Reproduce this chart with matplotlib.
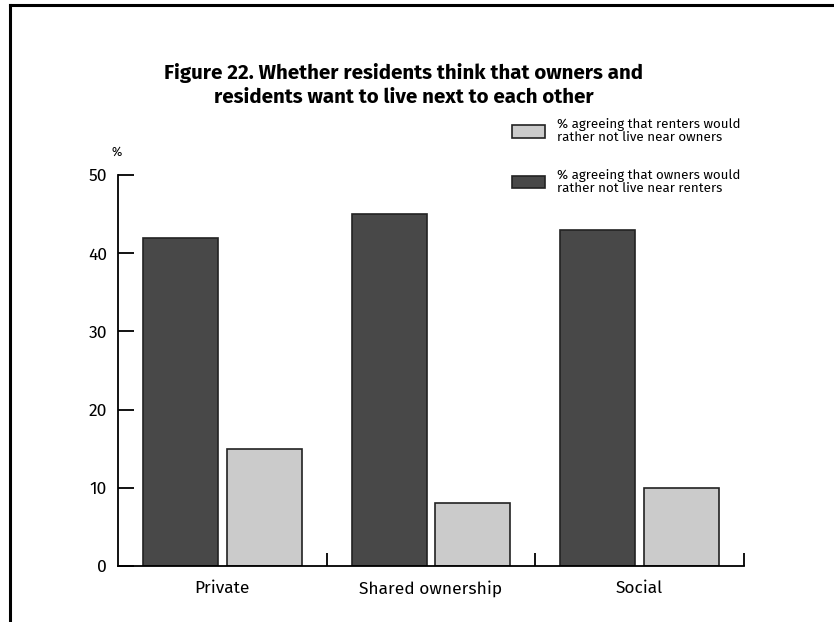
import matplotlib
matplotlib.use('Agg')
import matplotlib.pyplot as plt
from matplotlib.lines import Line2D
from matplotlib.patches import Patch
import numpy as np

plt.rcParams['font.family'] = ['Fira Sans', 'DejaVu Sans']

# data
categories = ['Private', 'Shared ownership', 'Social']
owners_vals = [42, 45, 43]   # dark bars
renters_vals = [15, 8, 10]   # light bars
label_renters = '% agreeing that renters would\nrather not live near owners'
label_owners = '% agreeing that owners would\nrather not live near renters'
title = 'Figure 22. Whether residents think that owners and\nresidents want to live next to each other'

dark = '#484848'
light = '#cbcbcb'
edge = '#222222'

fig = plt.figure(figsize=(8.34, 6.22), dpi=100)
ax = fig.add_axes([118 / 834, 1 - 566 / 622, 626 / 834, 391 / 622])

x = np.arange(len(categories))
w = 0.36
ax.bar(x - 0.2, owners_vals, w, color=dark, edgecolor=edge, linewidth=1.2)
ax.bar(x + 0.2, renters_vals, w, color=light, edgecolor=edge, linewidth=1.2)

ax.set_xlim(-0.5, 2.5)
ax.set_ylim(0, 50)
ax.spines['top'].set_visible(False)
ax.spines['right'].set_visible(False)
ax.spines['left'].set_linewidth(1.3)
ax.spines['bottom'].set_linewidth(1.3)

# y ticks
ax.set_yticks([0, 10, 20, 30, 40, 50])
ax.tick_params(axis='y', direction='in', length=11.5, width=1.3, pad=8, labelsize=12.5)
ax.get_yticklabels()[0].set_y(-0.6)

# group separators as major x ticks, category names on minor ticks
ax.set_xticks([0.5, 1.5, 2.5])
ax.set_xticklabels([])
ax.tick_params(axis='x', which='major', direction='in', length=9.5, width=1.3)
ax.set_xticks(x, minor=True)
ax.set_xticklabels(categories, minor=True)
ax.tick_params(axis='x', which='minor', length=0, pad=10, labelsize=12.5)

fig.text(117 / 834, 1 - 152 / 622, '%', fontsize=9, ha='center', va='center')

fig.text(404 / 834, 1 - 85 / 622, title, fontsize=14.8, fontweight='bold',
         ha='center', va='center', linespacing=1.28)

handles = [Patch(facecolor=light, edgecolor=edge, linewidth=1.2),
           Patch(facecolor=dark, edgecolor=edge, linewidth=1.2)]
leg = fig.legend(handles, [label_renters, label_owners], loc='upper left',
                 bbox_to_anchor=(512 / 834, 1 - 118 / 622), frameon=False,
                 fontsize=9.6, handlelength=2.5, handleheight=1.06,
                 labelspacing=1.85, handletextpad=0.85, borderaxespad=0, borderpad=0)
for t in leg.get_texts():
    t.set_linespacing(1.05)

# frame lines
fig.add_artist(Line2D([10 / 834, 10 / 834], [0, 1 - 5 / 622], color='black', lw=2.2))
fig.add_artist(Line2D([10 / 834, 1], [1 - 5 / 622, 1 - 5 / 622], color='black', lw=2.2))

fig.savefig('out.png', dpi=100)
